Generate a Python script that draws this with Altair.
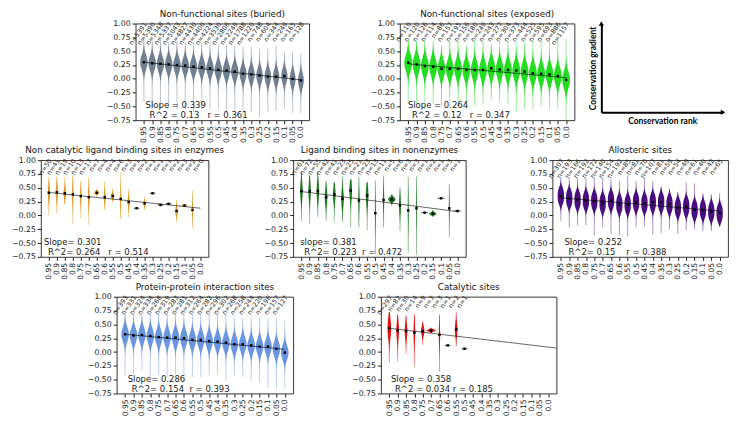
import numpy as np
import pandas as pd
import altair as alt

# ---------------- data ----------------
RANKS = [0.95, 0.9, 0.85, 0.8, 0.75, 0.7, 0.65, 0.6, 0.55, 0.5,
         0.45, 0.4, 0.35, 0.3, 0.25, 0.2, 0.15, 0.1, 0.05, 0.0]
RANK_LABELS = ["0.95", "0.9", "0.85", "0.8", "0.75", "0.7", "0.65", "0.6", "0.55", "0.5",
               "0.45", "0.4", "0.35", "0.3", "0.25", "0.2", "0.15", "0.1", "0.05", "0.0"]
Y_TICKS = [-0.75, -0.5, -0.25, 0.0, 0.25, 0.5, 0.75, 1.0]

BUR_N = [5391, 5390, 5348, 5337, 5043, 4827, 4430, 4400, 4224, 3530, 2806, 2249, 1788, 1220, 748, 604, 344, 249, 165, 128]
BUR_MED = [0.30, 0.28, 0.27, 0.26, 0.25, 0.24, 0.22, 0.21, 0.19, 0.16, 0.15, 0.13, 0.09, 0.08, 0.06, 0.04, 0.04, 0.05, 0.00, -0.03]
BUR_LO = [-0.42, -0.55, -0.55, -0.50, -0.55, -0.55, -0.60, -0.55, -0.55, -0.55, -0.62, -0.60, -0.62, -0.60, -0.70, -0.60, -0.58, -0.55, -0.62, -0.62]
BUR_HI = [0.72, 0.70, 0.70, 0.68, 0.68, 0.66, 0.66, 0.65, 0.64, 0.62, 0.62, 0.60, 0.58, 0.58, 0.55, 0.55, 0.60, 0.48, 0.48, 0.45]
BUR_W = [0.45, 0.45, 0.45, 0.45, 0.45, 0.45, 0.45, 0.45, 0.45, 0.45, 0.45, 0.45, 0.42, 0.42, 0.40, 0.40, 0.38, 0.38, 0.36, 0.36]

EXP_N = [110, 120, 126, 114, 86, 157, 195, 156, 180, 249, 243, 277, 304, 373, 444, 525, 595, 693, 886, 1157]
EXP_MED = [0.29, 0.26, 0.23, 0.22, 0.18, 0.18, 0.18, 0.16, 0.16, 0.16, 0.19, 0.17, 0.16, 0.15, 0.13, 0.10, 0.09, 0.08, 0.05, -0.02]
EXP_LO = [-0.45, -0.45, -0.55, -0.45, -0.50, -0.50, -0.50, -0.55, -0.50, -0.45, -0.38, -0.42, -0.45, -0.60, -0.55, -0.55, -0.50, -0.55, -0.55, -0.78]
EXP_HI = [0.70, 0.68, 0.70, 0.68, 0.60, 0.68, 0.68, 0.60, 0.68, 0.68, 0.62, 0.68, 0.68, 0.65, 0.66, 0.70, 0.72, 0.75, 0.72, 0.72]
EXP_W = [0.47] * 20

NCL_N = [50, 41, 19, 10, 13, 17, 7, 4, 4, 6, 3, 1, 2, 1, 1, 1, 2, 3, 2, 0]
NCL_MED = [0.41, 0.42, 0.40, 0.38, 0.35, 0.33, 0.41, 0.33, 0.35, 0.30, 0.24, 0.13, 0.22, 0.40, 0.19, 0.21, 0.08, 0.18, 0.10, None]
NCL_LO = [0.00, 0.03, 0.20, -0.15, -0.05, -0.17, 0.35, 0.10, 0.24, -0.07, -0.03, 0.13, 0.10, 0.40, 0.19, 0.21, -0.12, 0.15, -0.23, None]
NCL_HI = [0.68, 0.70, 0.70, 0.72, 0.62, 0.68, 0.48, 0.62, 0.48, 0.78, 0.47, 0.13, 0.33, 0.40, 0.19, 0.21, 0.28, 0.20, 0.45, None]
NCL_W = [0.14, 0.14, 0.16, 0.10, 0.10, 0.10, 0.32, 0.12, 0.22, 0.08, 0.12, 0.35, 0.15, 0.35, 0.35, 0.35, 0.15, 0.42, 0.08, 0]

LIG_N = [61, 72, 55, 42, 41, 23, 25, 21, 23, 13, 11, 5, 6, 3, 3, 1, 2, 1, 3, 1]
LIG_MED = [0.44, 0.44, 0.44, 0.33, 0.38, 0.30, 0.45, 0.27, 0.36, 0.04, 0.28, 0.29, 0.18, 0.09, 0.13, 0.05, 0.03, 0.31, 0.13, 0.08]
LIG_LO = [-0.10, -0.15, -0.03, -0.10, -0.13, -0.12, -0.22, -0.22, -0.27, -0.70, -0.22, 0.18, -0.28, -0.68, -0.72, 0.05, -0.02, 0.31, -0.40, 0.08]
LIG_HI = [0.78, 0.72, 0.78, 0.62, 0.60, 0.70, 0.65, 0.70, 0.60, 0.63, 0.72, 0.38, 0.50, 0.70, 0.70, 0.05, 0.10, 0.31, 0.57, 0.08]
LIG_W = [0.16, 0.15, 0.16, 0.16, 0.16, 0.16, 0.16, 0.08, 0.16, 0.05, 0.08, 0.45, 0.12, 0.05, 0.05, 0.40, 0.45, 0.40, 0.05, 0.40]

ALL_N = [307, 193, 166, 192, 172, 140, 154, 192, 85, 81, 70, 107, 81, 59, 54, 49, 61, 40, 42, 65]
ALL_MED = [0.35, 0.31, 0.28, 0.27, 0.26, 0.22, 0.27, 0.20, 0.20, 0.24, 0.22, 0.24, 0.24, 0.20, 0.14, 0.16, 0.10, 0.10, 0.07, 0.04]
ALL_LO = [-0.10, -0.22, -0.18, -0.18, -0.37, -0.22, -0.33, -0.37, -0.38, -0.22, -0.20, -0.35, -0.32, -0.25, -0.33, -0.27, -0.25, -0.28, -0.28, -0.20]
ALL_HI = [0.68, 0.68, 0.68, 0.68, 0.68, 0.68, 0.66, 0.62, 0.72, 0.62, 0.68, 0.62, 0.52, 0.48, 0.42, 0.60, 0.58, 0.40, 0.38, 0.40]
ALL_W = [0.38] * 20

PPI_N = [393, 331, 324, 334, 268, 319, 283, 281, 312, 264, 282, 296, 302, 268, 258, 244, 220, 196, 157, 127]
PPI_MED = [0.32, 0.30, 0.31, 0.29, 0.27, 0.26, 0.26, 0.25, 0.22, 0.22, 0.20, 0.19, 0.17, 0.14, 0.14, 0.12, 0.10, 0.10, 0.06, -0.01]
PPI_LO = [-0.42, -0.40, -0.33, -0.45, -0.42, -0.45, -0.40, -0.52, -0.45, -0.45, -0.42, -0.40, -0.52, -0.42, -0.45, -0.52, -0.55, -0.65, -0.65, -0.65]
PPI_HI = [0.72, 0.70, 0.70, 0.72, 0.70, 0.72, 0.72, 0.68, 0.72, 0.72, 0.70, 0.70, 0.68, 0.62, 0.62, 0.62, 0.62, 0.60, 0.62, 0.58]
PPI_W = [0.45] * 20

CAT_N = [297, 82, 30, 14, 9, 3, 3, 1, 2, 1]
CAT_MED = [0.43, 0.39, 0.38, 0.35, 0.38, 0.39, 0.31, 0.12, 0.41, 0.06]
CAT_LO = [-0.20, -0.17, -0.02, -0.27, 0.13, 0.34, -0.35, 0.12, 0.10, 0.06]
CAT_HI = [0.72, 0.68, 0.66, 0.68, 0.55, 0.44, 0.68, 0.12, 0.72, 0.06]
CAT_W = [0.22, 0.16, 0.16, 0.10, 0.20, 0.55, 0.08, 0.35, 0.16, 0.35]

# regression lines: (slope, intercept)
FITS = {
    "bur": (0.339, -0.02), "exp": (0.264, 0.02), "ncl": (0.301, 0.13), "lig": (0.381, 0.07),
    "all": (0.252, 0.08), "ppi": (0.286, 0.05), "cat": (0.358, 0.09),
}

STEP = 0.05
FONT = "DejaVu Sans"
INK = "#222222"
NB = "\u00a0"

X_SCALE = alt.Scale(domain=[-0.05, 1.0], reverse=True, nice=False, zero=False)
Y_SCALE = alt.Scale(domain=[-0.75, 1.0], nice=False, zero=False)
LABEL_EXPR = "[" + ",".join("'%s'" % s for s in RANK_LABELS) + "][round((0.95 - datum.value) / 0.05)]"
X_AXIS = alt.Axis(values=RANKS, labelExpr=LABEL_EXPR, labelAngle=270, labelFontSize=7.6,
                  labelOverlap=False, labelFlush=False, tickSize=3.5, labelPadding=2,
                  domain=False, grid=False, title=None, labelColor=INK, tickColor=INK)
Y_AXIS = alt.Axis(values=Y_TICKS, format=".2f", labelFontSize=7.8, tickSize=3.5, labelPadding=2,
                  domain=False, grid=False, title=None, labelColor=INK, tickColor=INK)


def xq(field):
    return alt.X(field, type="quantitative", scale=X_SCALE, axis=X_AXIS)


def yq(field):
    return alt.Y(field, type="quantitative", scale=Y_SCALE, axis=Y_AXIS)


def panel(title, color, n, med, lo, hi, wid, fit, w, h, sigma=None, power=2.0,
          stats=("", ""), sx=10, line_end=0.0):
    area, tails, singles, meds, labels = [], [], [], [], []
    for i in range(len(n)):
        r = RANKS[i]
        labels.append({"rank": r, "label": "n=%d" % n[i]})
        m = med[i]
        if m is None:
            continue
        meds.append({"rank": r, "y": m})
        hw = wid[i] * STEP
        if hi[i] - lo[i] < 1e-6:
            singles.append({"x1": r - hw, "x2": r + hw, "y": m})
            continue
        tails.append({"rank": r, "lo": lo[i], "hi": hi[i]})
        s = sigma if sigma else (hi[i] - lo[i]) / 5.0
        for y in np.linspace(lo[i], hi[i], 60):
            f = float(np.exp(-0.5 * np.abs((y - m) / s) ** power))
            area.append({"vid": i, "y": float(y), "x1": r - hw * f, "x2": r + hw * f})

    layers = []
    layers.append(alt.Chart(pd.DataFrame(tails)).mark_rule(color=color, opacity=0.45, strokeWidth=1)
                  .encode(x=xq("rank"), y=yq("lo"), y2="hi:Q"))
    layers.append(alt.Chart(pd.DataFrame(area)).mark_area(orient="horizontal", color=color, opacity=1)
                  .encode(x=xq("x1"), x2="x2:Q", y=yq("y"), detail="vid:N"))
    if singles:
        layers.append(alt.Chart(pd.DataFrame(singles)).mark_rule(color="#444444", strokeWidth=1)
                      .encode(x=xq("x1"), x2="x2:Q", y=yq("y")))
    slope, icpt = fit
    line = pd.DataFrame({"rank": [0.95, line_end], "y": [icpt + slope * 0.95, icpt + slope * line_end]})
    layers.append(alt.Chart(line).mark_line(color="black", strokeWidth=0.8, opacity=0.75)
                  .encode(x=xq("rank"), y=yq("y")))
    layers.append(alt.Chart(pd.DataFrame(meds)).mark_square(size=6, color="black", opacity=1)
                  .encode(x=xq("rank"), y=yq("y")))
    layers.append(alt.Chart(pd.DataFrame(labels)).mark_text(angle=305, align="right", baseline="middle",
                                                            fontSize=6.5, dx=3, color=INK, font=FONT)
                  .encode(x=xq("rank"), y=alt.value(2), text="label:N"))
    st = pd.DataFrame({"t": [stats[0].replace(" ", NB)]})
    layers.append(alt.Chart(st).mark_text(align="left", baseline="alphabetic", fontSize=8.5, color=INK, font=FONT)
                  .encode(x=alt.value(sx), y=alt.value(h - 12), text="t:N"))
    st2 = pd.DataFrame({"t": [stats[1].replace(" ", NB)]})
    layers.append(alt.Chart(st2).mark_text(align="left", baseline="alphabetic", fontSize=8.5, color=INK, font=FONT)
                  .encode(x=alt.value(sx + 4), y=alt.value(h - 2), text="t:N"))
    return alt.layer(*layers).properties(
        width=w, height=h,
        title=alt.Title(title, fontSize=8.8, fontWeight=400, offset=1, color="#111111", font=FONT),
    )


def spacer(w):
    return alt.Chart(pd.DataFrame({"v": [0]})).mark_point(opacity=0).encode(
        x=alt.value(0), y=alt.value(0)
    ).properties(width=w, height=10, view=alt.ViewBackground(stroke="transparent"))


H = 97

p_bur = panel("Non-functional sites (buried)", "#6f8092", BUR_N, BUR_MED, BUR_LO, BUR_HI, BUR_W, FITS["bur"],
              174, H, sigma=0.13, stats=("Slope = 0.339", "R^2 = 0.13   r = 0.361"), sx=10)
p_exp = panel("Non-functional sites (exposed)", "#22dd22", EXP_N, EXP_MED, EXP_LO, EXP_HI, EXP_W, FITS["exp"],
              175, H, sigma=0.15, stats=("Slope = 0.264", "R^2 = 0.12   r = 0.347"), sx=8)
p_ncl = panel("Non catalytic ligand binding sites in enzymes", "#d99a26", NCL_N, NCL_MED, NCL_LO, NCL_HI, NCL_W,
              FITS["ncl"], 168, H, stats=("Slope= 0.301", "R^2= 0.264   r = 0.514"), sx=3)
p_lig = panel("Ligand binding sites in nonenzymes", "#1f7a1f", LIG_N, LIG_MED, LIG_LO, LIG_HI, LIG_W,
              FITS["lig"], 173, H, stats=("slope= 0.381", "R^2= 0.223  r = 0.472"), sx=7)
p_all = panel("Allosteric sites", "#4a0e7e", ALL_N, ALL_MED, ALL_LO, ALL_HI, ALL_W, FITS["all"],
              176, H, sigma=0.15, power=3.0, stats=("Slope= 0.252", "R^2= 0.15    r = 0.388"), sx=12)
p_ppi = panel("Protein-protein interaction sites", "#6a96e0", PPI_N, PPI_MED, PPI_LO, PPI_HI, PPI_W,
              FITS["ppi"], 177, H, sigma=0.13, stats=("Slope= 0.286", "R^2= 0.154  r = 0.393"), sx=11)
p_cat = panel("Catalytic sites", "#e31010", CAT_N, CAT_MED, CAT_LO, CAT_HI, CAT_W, FITS["cat"],
              176, H, stats=("Slope = 0.358", "R^2 = 0.034 r = 0.185"), sx=10, line_end=-0.05)

# schematic
SCH = pd.DataFrame({"x": [0.0, 1.0], "y": [1.0, 0.0], "shape": ["triangle-up", "triangle-right"]})
sch_ax = dict(ticks=False, labels=False, grid=False, domainColor="black", domainWidth=2,
              titleFont="Lato", titleFontWeight="bold", titleFontSize=8.5, titleColor="black", titlePadding=4)
schem = alt.Chart(SCH).mark_point(filled=True, size=28, color="black", opacity=1).encode(
    x=alt.X("x:Q", scale=alt.Scale(domain=[0, 1], nice=False), axis=alt.Axis(title="Conservation rank", **sch_ax)),
    y=alt.Y("y:Q", scale=alt.Scale(domain=[0, 1], nice=False), axis=alt.Axis(title="Conservation gradient", **sch_ax)),
    shape=alt.Shape("shape:N", scale=None),
).properties(width=122, height=H - 8, view=alt.ViewBackground(stroke="transparent"))

row1 = alt.hconcat(spacer(124), p_bur, spacer(91), p_exp, spacer(27), schem, spacing=0, bounds="flush")
row2 = alt.hconcat(spacer(29), p_ncl, spacer(85), p_lig, spacer(87), p_all, spacing=0, bounds="flush")
row3 = alt.hconcat(spacer(105), p_ppi, spacer(88), p_cat, spacing=0, bounds="flush")

chart = alt.vconcat(row1, row2, row3, spacing=2).properties(
    padding={"left": 0, "top": 0, "right": 0, "bottom": 0}
).configure(font=FONT).configure_view(stroke="#222222", strokeWidth=0.9)

chart.save("out.html", embed_options={"renderer": "svg", "actions": False})
